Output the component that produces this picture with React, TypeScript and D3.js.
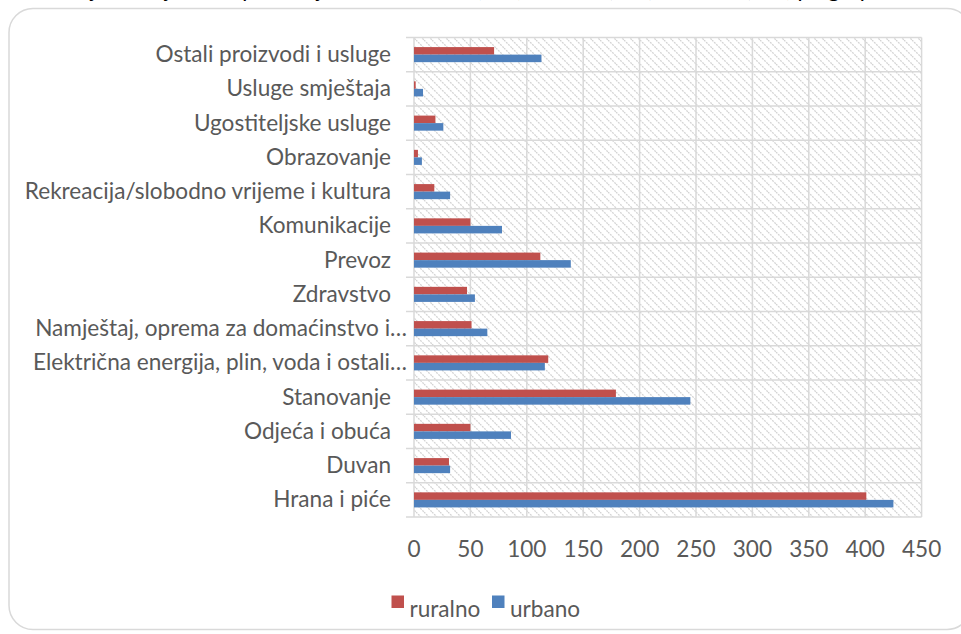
import React from "react";
import * as d3 from "d3";

// categories from top to bottom, as drawn
const categories = [
  "Ostali proizvodi i usluge",
  "Usluge smještaja",
  "Ugostiteljske usluge",
  "Obrazovanje",
  "Rekreacija/slobodno vrijeme i kultura",
  "Komunikacije",
  "Prevoz",
  "Zdravstvo",
  "Namještaj, oprema za domaćinstvo i…",
  "Električna energija, plin, voda i ostali…",
  "Stanovanje",
  "Odjeća i obuća",
  "Duvan",
  "Hrana i piće",
];

const ruralno = [71, 1.5, 19, 3.5, 18, 50, 112, 47, 51, 119, 179, 50, 31, 401];
const urbano = [113, 8, 26, 7, 32, 78, 139, 54, 65, 116, 245, 86, 32, 425];

const seriesNames = ["ruralno", "urbano"];
const seriesColors = ["#C0504D", "#4F81BD"];
const xTicks = [0, 50, 100, 150, 200, 250, 300, 350, 400, 450];

const title =
  "Prosječna mjesečna potrošnja domaćinstava (KM), urbano (KM) i ruralno (KM) po grupama";

export default function App() {
  const width = 961;
  const height = 634;
  const font = "Lato, 'Open Sans', sans-serif";
  const textColor = "#595959";
  const grid = "#D9D9D9";

  const x = d3.scaleLinear().domain([0, 450]).range([414, 921.6]);
  const y = d3
    .scaleBand()
    .domain(categories)
    .range([37.5, 517])
    .paddingInner(0.56)
    .paddingOuter(0.28);
  const ySub = d3.scaleBand().domain(seriesNames).range([0, y.bandwidth()]);

  const top = y.range()[0];
  const bottom = y.range()[1];
  const step = y.step();
  const boundaries = d3.range(categories.length + 1).map((i) => top + i * step);

  const values = [ruralno, urbano];

  return (
    <svg
      width={width}
      height={height}
      style={{ position: "absolute", left: 0, top: 0 }}
      fontFamily={font}
    >
      <defs>
        <pattern id="hatch" width="8" height="8" patternUnits="userSpaceOnUse">
          <rect width="8" height="8" fill="#fff" />
          <path
            d="M0,0 L8,8 M-2,6 L2,10 M6,-2 L10,2"
            stroke="#D4D4D4"
            strokeWidth="1.3"
            strokeDasharray="2 1"
          />
        </pattern>
      </defs>
      <rect width={width} height={height} fill="#fff" />
      {/* title, cut off by the top edge as in the source */}
      <text x={480} y={-3} textAnchor="middle" fontSize={22} fill="#000">
        {title}
      </text>
      <rect
        x={9}
        y={8.5}
        width={962}
        height={621}
        rx={24}
        fill="#fff"
        stroke="#D9D9D9"
        strokeWidth={1.5}
      />

      {/* plot area */}
      <rect
        x={x(0)}
        y={top}
        width={x(450) - x(0)}
        height={bottom - top}
        fill="url(#hatch)"
      />
      {xTicks.map((t) => (
        <line
          key={"v" + t}
          x1={x(t)}
          x2={x(t)}
          y1={top}
          y2={bottom}
          stroke={grid}
          strokeWidth={1.5}
        />
      ))}
      {boundaries.map((b, i) => (
        <line
          key={"h" + i}
          x1={x(0) - 8}
          x2={x(450)}
          y1={b}
          y2={b}
          stroke={grid}
          strokeWidth={1.5}
        />
      ))}

      {/* bars */}
      {categories.map((c, i) => (
        <g key={c} transform={`translate(0,${y(c)})`}>
          {seriesNames.map((s, k) => (
            <rect
              key={s}
              x={x(0)}
              y={ySub(s)}
              width={x(values[k][i]) - x(0)}
              height={ySub.bandwidth()}
              fill={seriesColors[k]}
            />
          ))}
        </g>
      ))}

      {/* category labels */}
      {categories.map((c) => (
        <text
          key={"l" + c}
          x={c.endsWith("…") ? 407 : 391}
          y={(y(c) as number) + y.bandwidth() / 2 + 7.5}
          textAnchor="end"
          fontSize={22.6}
          fill={textColor}
        >
          {c}
        </text>
      ))}

      {/* x tick labels */}
      {xTicks.map((t) => (
        <text
          key={"t" + t}
          x={x(t)}
          y={556.5}
          textAnchor="middle"
          fontSize={22.6}
          fill={textColor}
        >
          {t}
        </text>
      ))}

      {/* legend */}
      {seriesNames.map((s, k) => {
        const lx = k === 0 ? 391.5 : 492;
        return (
          <g key={"lg" + s}>
            <rect x={lx} y={595.5} width={12.5} height={12.5} fill={seriesColors[k]} />
            <text x={lx + 18} y={617} fontSize={22.6} fill={textColor}>
              {s}
            </text>
          </g>
        );
      })}
    </svg>
  );
}
